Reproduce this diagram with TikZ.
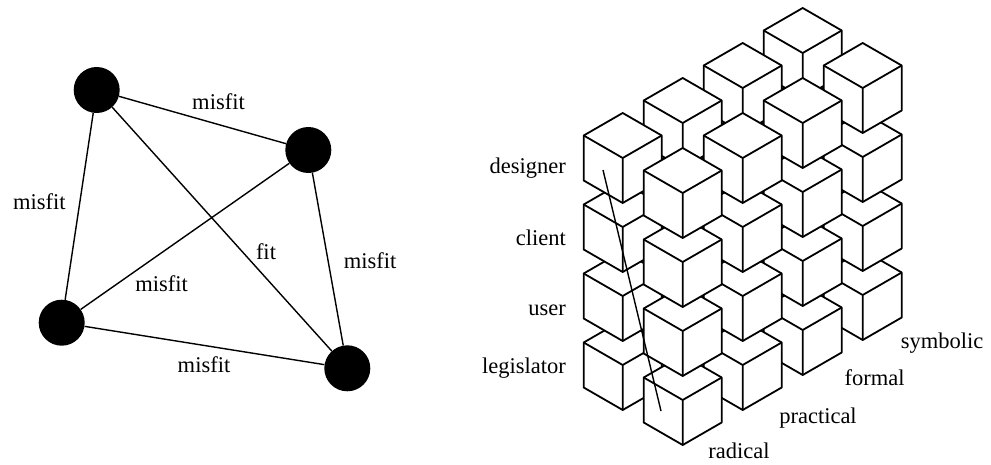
\documentclass[tikz,border=0pt]{standalone}
\usepackage{fontspec}
\setmainfont{Liberation Serif}
\newfontfamily\lserif{Liberation Serif}
\begin{document}
\begin{tikzpicture}[x=1pt,y=-1pt,
  dot/.style={circle,fill=black,minimum size=46pt,inner sep=0pt},
  link/.style={line width=1.4pt},
  lbl/.style={anchor=base,inner sep=0pt,font=\lserif\fontsize{22.5}{26}\selectfont},
  rlbl/.style={anchor=base east,inner sep=0pt,font=\lserif\fontsize{22.5}{26}\selectfont},
  cubeface/.style={line width=1.8pt,line join=round,fill=white,draw=black},
  cubeline/.style={line width=1.8pt,line join=round,draw=black}]
\useasboundingbox[fill=white] (0,0) rectangle (991,465);
% ---------- left graph ----------
\node[dot] (n1) at (96.7,90) {};
\node[dot] (n2) at (308.3,150) {};
\node[dot] (n3) at (61.7,322.7) {};
\node[dot] (n4) at (347.3,368.3) {};
\draw[link] (n1) -- (n2);
\draw[link] (n1) -- (n3);
\draw[link] (n1) -- (n4);
\draw[link] (n2) -- (n3);
\draw[link] (n2) -- (n4);
\draw[link] (n3) -- (n4);
\node[lbl] (l12) at (218.5,110) {misfit};
\node[lbl] (l13) at (39.3,210) {misfit};
\node[lbl] (l14) at (266,259.3) {fit};
\node[lbl] (l23) at (161.7,291.7) {misfit};
\node[lbl] (l24) at (370,268.3) {misfit};
\node[lbl] (l34) at (204,372.7) {misfit};
% ---------- cube lattice ----------
\foreach \j in {3,2,1,0}{
  \foreach \i in {0,1}{
    \foreach \r in {3,2,1,0}{
      \pgfmathsetmacro\cx{622.7+60*\i+60*\j}
      \pgfmathsetmacro\cy{113+35*\i-35*\j+69*\r}
      \draw[cubeface] (\cx,\cy) -- ++(39,22.5) -- ++(0,45) -- ++(-39,22.5)
        -- ++(-39,-22.5) -- ++(0,-45) -- cycle;
      \draw[cubeline] (\cx-39,\cy+22.5) -- (\cx,\cy+45) -- (\cx+39,\cy+22.5)
        (\cx,\cy+45) -- (\cx,\cy+90);
    }
  }
}
\coordinate (as) at (603,170);
\coordinate (ae) at (661,411);
\draw[line width=1.4pt] (as) -- (ae);
% row labels
\node[rlbl] (designer) at (566,173.3) {designer};
\node[rlbl] (client) at (566,246) {client};
\node[rlbl] (user) at (566,315) {user};
\node[rlbl] (legislator) at (566,373.3) {legislator};
% depth labels
\node[lbl] (radical) at (739,458.3) {radical};
\node[lbl] (practical) at (818,423.3) {practical};
\node[lbl] (formal) at (874.5,385) {formal};
\node[lbl] (symbolic) at (942,348.3) {symbolic};
\end{tikzpicture}
\end{document}
